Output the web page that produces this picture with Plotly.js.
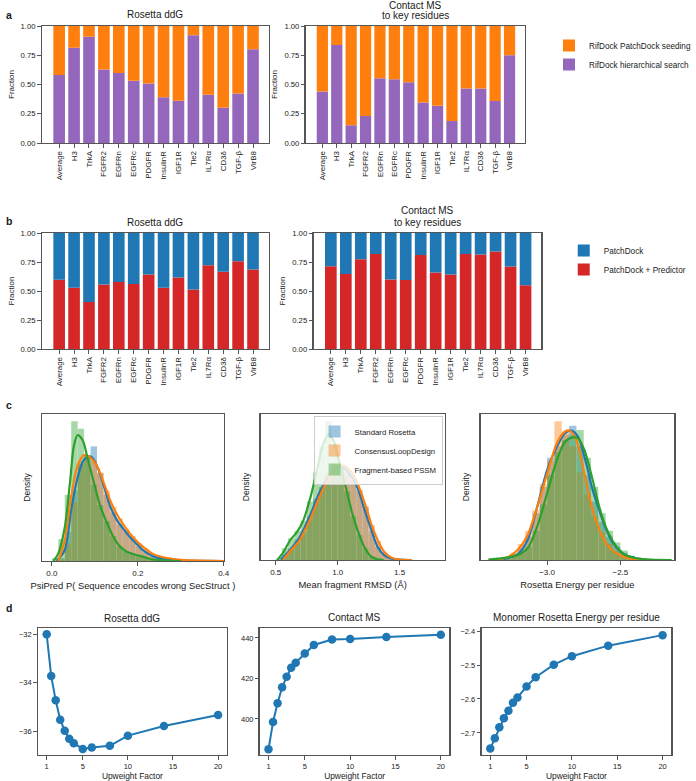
<!DOCTYPE html>
<html><head><meta charset="utf-8">
<script src="https://cdn.plot.ly/plotly-3.0.1.min.js"></script>
<style>html,body{margin:0;padding:0;background:#fff}</style>
</head><body><div id="chart" style="width:696px;height:781px"></div>
<script>
// ---------- DATA ----------
const categories = ["Average","H3","TrkA","FGFR2","EGFRn","EGFRc","PDGFR","InsulinR","IGF1R","Tie2","IL7Rα","CD3δ","TGF-β","VirB8"];
// panel a: fraction from RifDock hierarchical search (rest = PatchDock seeding)
const hierarchicalDdG = [0.582,0.815,0.909,0.628,0.599,0.531,0.509,0.392,0.361,0.920,0.412,0.301,0.423,0.801];
const hierarchicalMS  = [0.440,0.838,0.151,0.230,0.554,0.545,0.520,0.347,0.318,0.188,0.466,0.466,0.358,0.750];
// panel b: fraction from PatchDock + Predictor (rest = PatchDock)
const predictorDdG = [0.597,0.529,0.406,0.557,0.577,0.560,0.643,0.529,0.617,0.514,0.723,0.666,0.757,0.686];
const predictorMS  = [0.714,0.646,0.774,0.820,0.600,0.594,0.811,0.660,0.643,0.820,0.814,0.840,0.711,0.549];

// panel c: histogram bins (centres) and heights (relative density), KDE curves
const psiBins = [0.0075,0.0225,0.0375,0.0525,0.0675,0.0825,0.0975,0.1125,0.1275,0.1425,0.1575,0.1725,0.1875,0.2025,0.2175,0.2325,0.2475,0.2625,0.2775,0.2925];
const psiHistStd  = [0,0.02,0.2,0.48,0.66,0.72,0.78,0.6,0.45,0.33,0.25,0.2,0.15,0.1,0.06,0.035,0.02,0.01,0.006,0.004];
const psiHistCons = [0,0.01,0.12,0.4,0.68,0.72,0.68,0.6,0.48,0.37,0.29,0.22,0.17,0.12,0.085,0.05,0.03,0.015,0.008,0.005];
const psiHistFrag = [0.02,0.15,0.45,0.95,0.9,0.72,0.52,0.38,0.27,0.17,0.1,0.065,0.05,0.04,0.025,0.012,0.006,0.003,0,0];
const psiKdeStdX  = [0.011,0.03,0.045,0.06,0.075,0.091,0.106,0.121,0.136,0.151,0.166,0.181,0.196,0.211,0.234,0.257,0.294,0.35,0.4];
const psiKdeStdY  = [0,0.075,0.35,0.57,0.69,0.71,0.64,0.51,0.37,0.28,0.22,0.165,0.12,0.075,0.034,0.016,0.005,0.001,0];
const psiKdeConsX = [0.015,0.03,0.045,0.06,0.075,0.091,0.106,0.121,0.136,0.151,0.166,0.181,0.196,0.211,0.234,0.257,0.294,0.33,0.4];
const psiKdeConsY = [0,0.14,0.44,0.65,0.72,0.70,0.64,0.53,0.41,0.32,0.25,0.19,0.14,0.10,0.05,0.027,0.01,0.004,0];
const psiKdeFragX = [0.004,0.015,0.03,0.042,0.051,0.06,0.072,0.083,0.098,0.113,0.128,0.143,0.158,0.174,0.189,0.211,0.234,0.257,0.3];
const psiKdeFragY = [0,0.052,0.23,0.53,0.78,0.857,0.82,0.70,0.53,0.37,0.26,0.165,0.10,0.063,0.048,0.03,0.011,0.005,0];

const rmsdBins = [0.525,0.575,0.625,0.675,0.725,0.775,0.825,0.875,0.925,0.975,1.025,1.075,1.125,1.175,1.225,1.275,1.325,1.375,1.425,1.475];
const rmsdHistStd  = [0,0.03,0.08,0.14,0.2,0.3,0.42,0.5,0.58,0.64,0.65,0.6,0.55,0.48,0.36,0.2,0.09,0.04,0.012,0.003];
const rmsdHistCons = [0,0.02,0.07,0.12,0.18,0.28,0.4,0.5,0.6,0.66,0.64,0.62,0.57,0.47,0.37,0.24,0.13,0.05,0.015,0.004];
const rmsdHistFrag = [0.01,0.08,0.15,0.2,0.27,0.4,0.6,0.78,0.95,0.8,0.65,0.47,0.3,0.17,0.08,0.025,0.005,0,0,0];
const rmsdKdeStdX  = [0.54,0.617,0.696,0.774,0.852,0.931,0.996,1.048,1.113,1.166,1.218,1.27,1.322,1.375,1.43,1.5,1.6];
const rmsdKdeStdY  = [0.003,0.07,0.16,0.3,0.46,0.58,0.63,0.63,0.57,0.48,0.34,0.21,0.09,0.034,0.011,0.002,0];
const rmsdKdeConsX = [0.56,0.617,0.696,0.774,0.852,0.931,1.009,1.061,1.113,1.166,1.218,1.27,1.322,1.375,1.43,1.5,1.6];
const rmsdKdeConsY = [0.003,0.06,0.14,0.27,0.43,0.57,0.645,0.64,0.6,0.51,0.39,0.25,0.137,0.057,0.018,0.003,0];
const rmsdKdeFragX = [0.513,0.565,0.617,0.67,0.722,0.774,0.826,0.878,0.925,0.97,1.01,1.065,1.117,1.17,1.22,1.27,1.32,1.37];
const rmsdKdeFragY = [0,0.057,0.137,0.19,0.27,0.41,0.59,0.78,0.86,0.81,0.68,0.5,0.32,0.18,0.08,0.023,0.005,0];

const energyBins = [-3.325,-3.275,-3.225,-3.175,-3.125,-3.075,-3.025,-2.975,-2.925,-2.875,-2.825,-2.775,-2.725,-2.675,-2.625,-2.575,-2.525,-2.475,-2.425,-2.375,-2.325];
const energyHistStd  = [0.003,0.01,0.03,0.08,0.16,0.32,0.5,0.7,0.78,0.86,0.92,0.78,0.58,0.4,0.26,0.16,0.09,0.05,0.025,0.01,0.004];
const energyHistCons = [0.005,0.015,0.05,0.11,0.2,0.34,0.52,0.68,0.95,0.88,0.78,0.6,0.45,0.3,0.19,0.11,0.06,0.03,0.012,0.005,0.002];
const energyHistFrag = [0.008,0.02,0.03,0.05,0.09,0.2,0.38,0.58,0.74,0.82,0.86,0.89,0.7,0.5,0.32,0.2,0.12,0.065,0.03,0.015,0.006];
const energyKdeStdX  = [-3.3,-3.2,-3.133,-3.067,-3.0,-2.933,-2.878,-2.833,-2.789,-2.733,-2.689,-2.644,-2.6,-2.556,-2.511,-2.467,-2.4,-2.31];
const energyKdeStdY  = [0.005,0.04,0.137,0.365,0.616,0.776,0.868,0.886,0.845,0.66,0.48,0.34,0.217,0.126,0.068,0.034,0.014,0];
const energyKdeConsX = [-3.4,-3.333,-3.267,-3.2,-3.133,-3.067,-3.0,-2.933,-2.878,-2.844,-2.8,-2.756,-2.711,-2.667,-2.622,-2.578,-2.533,-2.467,-2.378,-2.3];
const energyKdeConsY = [0,0.005,0.02,0.07,0.17,0.365,0.59,0.8,0.88,0.886,0.82,0.64,0.43,0.27,0.16,0.09,0.05,0.018,0.002,0];
const energyKdeFragX = [-3.4,-3.267,-3.2,-3.133,-3.067,-3.0,-2.933,-2.878,-2.822,-2.789,-2.744,-2.689,-2.644,-2.6,-2.556,-2.511,-2.467,-2.4,-2.289,-2.15];
const energyKdeFragY = [0.002,0.018,0.034,0.08,0.23,0.457,0.685,0.81,0.84,0.833,0.75,0.548,0.365,0.228,0.137,0.073,0.034,0.014,0.002,0];

// panel d
const upweight = [1,1.5,2,2.5,3,3.5,4,5,6,8,10,14,20];
const ddgByWeight = [-32.0,-33.72,-34.73,-35.53,-35.99,-36.32,-36.50,-36.74,-36.68,-36.61,-36.19,-35.79,-35.34];
const msByWeight = [385.0,398.5,407.7,415.6,420.8,425.3,427.8,432.3,436.5,439.2,439.5,440.5,441.6];
const monomerEnergyByWeight = [-2.746,-2.716,-2.683,-2.657,-2.635,-2.611,-2.596,-2.563,-2.536,-2.499,-2.474,-2.443,-2.412];

// ---------- STYLE ----------
const W = 696, H = 781;
const FONT = "Liberation Sans, Arial, Helvetica, sans-serif";
const C = {purple:'#9467bd', orange:'#ff7f0e', blue:'#1f77b4', red:'#d62728', green:'#2ca02c', frame:'#555555', text:'#1a1a1a'};
const dx = (a,b) => [a/W, b/W];
const dy = (top,bot) => [1-bot/H, 1-top/H];
const px = v => v/W, py = v => 1-v/H;

function axis(extra){
  return Object.assign({showline:true, mirror:true, linecolor:C.frame, linewidth:1.4,
    ticks:'outside', ticklen:3.5, tickwidth:1, tickcolor:C.frame, showgrid:false, zeroline:false,
    tickfont:{size:7.5, color:C.text, family:FONT}, automargin:false}, extra);
}

const traces = [];
// panel a & b stacked bars (overlay mode with base)
function stacked(xa, ya, low, lowName, lowColor, highName, highColor, legend, show){
  traces.push({type:'bar', x:categories, y:low, width:0.78, marker:{color:lowColor, line:{width:0}},
    name:lowName, legend:legend, legendgroup:legend+lowName, showlegend:show, xaxis:xa, yaxis:ya});
  traces.push({type:'bar', x:categories, y:low.map(v=>1-v), base:low, width:0.78, marker:{color:highColor, line:{width:0}},
    name:highName, legend:legend, legendgroup:legend+highName, showlegend:show, xaxis:xa, yaxis:ya});
}
stacked('x','y',hierarchicalDdG,'RifDock hierarchical search',C.purple,'RifDock PatchDock seeding',C.orange,'legend',true);
stacked('x2','y2',hierarchicalMS,'RifDock hierarchical search',C.purple,'RifDock PatchDock seeding',C.orange,'legend',false);
stacked('x3','y3',predictorDdG,'PatchDock + Predictor',C.red,'PatchDock',C.blue,'legend2',true);
stacked('x4','y4',predictorMS,'PatchDock + Predictor',C.red,'PatchDock',C.blue,'legend2',false);

// panel c
function density(xa, ya, bins, bw, hists, kdes, show){
  const names = ['Standard Rosetta','ConsensusLoopDesign','Fragment-based PSSM'];
  const cols = [C.blue, C.orange, C.green];
  for(let i=0;i<3;i++){
    traces.push({type:'bar', x:bins, y:hists[i], width:bw, opacity:0.42,
      marker:{color:cols[i], line:{width:0}}, name:names[i], legend:'legend3', showlegend:show,
      xaxis:xa, yaxis:ya});
  }
  for(let i=0;i<3;i++){
    traces.push({type:'scatter', mode:'lines', x:kdes[i][0], y:kdes[i][1], line:{color:cols[i], width:2.2, shape:'spline', smoothing:0.8},
      showlegend:false, xaxis:xa, yaxis:ya});
  }
}
density('x5','y5',psiBins,0.015,[psiHistStd,psiHistCons,psiHistFrag],
  [[psiKdeStdX,psiKdeStdY],[psiKdeConsX,psiKdeConsY],[psiKdeFragX,psiKdeFragY]], false);
density('x6','y6',rmsdBins,0.05,[rmsdHistStd,rmsdHistCons,rmsdHistFrag],
  [[rmsdKdeStdX,rmsdKdeStdY],[rmsdKdeConsX,rmsdKdeConsY],[rmsdKdeFragX,rmsdKdeFragY]], true);
density('x7','y7',energyBins,0.05,[energyHistStd,energyHistCons,energyHistFrag],
  [[energyKdeStdX,energyKdeStdY],[energyKdeConsX,energyKdeConsY],[energyKdeFragX,energyKdeFragY]], false);

// panel d
[['x8','y8',ddgByWeight],['x9','y9',msByWeight],['x10','y10',monomerEnergyByWeight]].forEach(([xa,ya,ys])=>{
  traces.push({type:'scatter', mode:'lines+markers', x:upweight, y:ys,
    line:{color:C.blue, width:2}, marker:{color:C.blue, size:8.5}, showlegend:false, xaxis:xa, yaxis:ya});
});

const barX = (dom) => axis({domain:dom, type:'category', range:[-1.15,14.05], tickangle:-90, tickfont:{size:7.9,color:C.text,family:FONT}});
const barY = (dom, anchor) => axis({domain:dom, anchor:anchor, range:[0,1], tickvals:[0,0.25,0.5,0.75,1], tickformat:'.2f',
  tickfont:{size:7.7,color:C.text,family:FONT},
  title:{text:'Fraction', font:{size:8,color:C.text,family:FONT}, standoff:5}});
const denY = (dom, anchor) => axis({domain:dom, anchor:anchor, range:[0,1], ticks:'', showticklabels:false,
  title:{text:'Density', font:{size:8.5,color:C.text,family:FONT}, standoff:8}});
const xTitle = (t, s, so) => ({text:t, font:{size:s||9.2,color:C.text,family:FONT}, standoff:(so===undefined?4:so)});

const layout = {
  width:W, height:H, autosize:false, margin:{l:0,r:0,t:0,b:0,pad:0},
  paper_bgcolor:'#fff', plot_bgcolor:'#fff', barmode:'overlay',
  font:{family:FONT, color:C.text},
  xaxis: barX(dx(43,275)), yaxis: barY(dy(26,143),'x'),
  xaxis2: Object.assign(barX(dx(313,537)),{anchor:'y2'}), yaxis2: barY(dy(26,143),'x2'),
  xaxis3: Object.assign(barX(dx(43,275)),{anchor:'y3'}), yaxis3: barY(dy(233,349),'x3'),
  xaxis4: Object.assign(barX(dx(321,554)),{anchor:'y4'}), yaxis4: barY(dy(233,349),'x4'),
  xaxis5: axis({domain:dx(43,229), anchor:'y5', range:[-0.023,0.4], tickvals:[0,0.2,0.4], tickformat:'.1f', tickfont:{size:8,color:C.text,family:FONT},
    title:xTitle('PsiPred P( Sequence encodes wrong SecStruct )',9.4,6)}),
  yaxis5: denY(dy(414,561),'x5'),
  xaxis6: axis({domain:dx(267,455), anchor:'y6', range:[0.38,1.862], tickvals:[0.5,1.0,1.5], tickformat:'.1f', tickfont:{size:8,color:C.text,family:FONT},
    title:xTitle('Mean fragment RMSD (Å)',9.4,6)}),
  yaxis6: denY(dy(414,560),'x6'),
  xaxis7: axis({domain:dx(492,690), anchor:'y7', range:[-3.453,-2.133], tickvals:[-3.0,-2.5], tickformat:'.1f', tickfont:{size:8,color:C.text,family:FONT},
    title:xTitle('Rosetta Energy per residue',9.4,6)}),
  yaxis7: denY(dy(414,560),'x7'),
  xaxis8: axis({domain:dx(39,232), anchor:'y8', range:[0.05,20.95], tickvals:[1,5,10,15,20], title:xTitle('Upweight Factor',8.4)}),
  yaxis8: axis({domain:dy(628,755), anchor:'x8', range:[-36.99,-31.74], tickvals:[-36,-34,-32]}),
  xaxis9: axis({domain:dx(266,460), anchor:'y9', range:[0.05,20.95], tickvals:[1,5,10,15,20], title:xTitle('Upweight Factor',8.4)}),
  yaxis9: axis({domain:dy(628,755), anchor:'x9', range:[382.2,444.9], tickvals:[400,420,440]}),
  xaxis10: axis({domain:dx(493,687), anchor:'y10', range:[0.05,20.95], tickvals:[1,5,10,15,20], title:xTitle('Upweight Factor',8.4)}),
  yaxis10: axis({domain:dy(628,755), anchor:'x10', range:[-2.765,-2.391], tickvals:[-2.7,-2.6,-2.5,-2.4], tickformat:'.1f'}),
  legend: {x:px(562), y:py(31), xanchor:'left', yanchor:'top', traceorder:'reversed', bgcolor:'rgba(0,0,0,0)',
    font:{size:8.2,color:C.text,family:FONT}, itemwidth:30},
  legend2: {x:px(577), y:py(236), xanchor:'left', yanchor:'top', traceorder:'reversed', bgcolor:'rgba(0,0,0,0)',
    font:{size:8.2,color:C.text,family:FONT}, itemwidth:30},
  legend3: {x:px(453), y:py(416), xanchor:'right', yanchor:'top', bgcolor:'rgba(255,255,255,0.8)', bordercolor:'#cccccc', borderwidth:1,
    font:{size:7.8,color:C.text,family:FONT}, itemwidth:30},
  annotations: [
    {text:'<b>a</b>', x:px(4), y:py(15)},
    {text:'<b>b</b>', x:px(4), y:py(221)},
    {text:'<b>c</b>', x:px(4), y:py(405)},
    {text:'<b>d</b>', x:px(4), y:py(608)},
    {text:'Rosetta ddG', x:px(159), y:py(15), xanchor:'center', font:{size:10}},
    {text:'Contact MS', x:px(425), y:py(5), xanchor:'center', font:{size:10}},
    {text:'to key residues', x:px(425), y:py(15.5), xanchor:'center', font:{size:10}},
    {text:'Rosetta ddG', x:px(159), y:py(222), xanchor:'center', font:{size:10}},
    {text:'Contact MS', x:px(438), y:py(211), xanchor:'center', font:{size:10}},
    {text:'to key residues', x:px(438), y:py(222), xanchor:'center', font:{size:10}},
    {text:'Rosetta ddG', x:px(135.5), y:py(618), xanchor:'center', font:{size:10}},
    {text:'Contact MS', x:px(363), y:py(617), xanchor:'center', font:{size:10}},
    {text:'Monomer Rosetta Energy per residue', x:px(590), y:py(617), xanchor:'center', font:{size:10}}
  ].map(a => Object.assign({xref:'paper', yref:'paper', showarrow:false, xanchor:'left', yanchor:'middle'}, a,
      {font:Object.assign({size:10.5, color:C.text, family:FONT}, a.font||{})}))
};

Plotly.newPlot('chart', traces, layout, {staticPlot:true, displayModeBar:false});
</script></body></html>
